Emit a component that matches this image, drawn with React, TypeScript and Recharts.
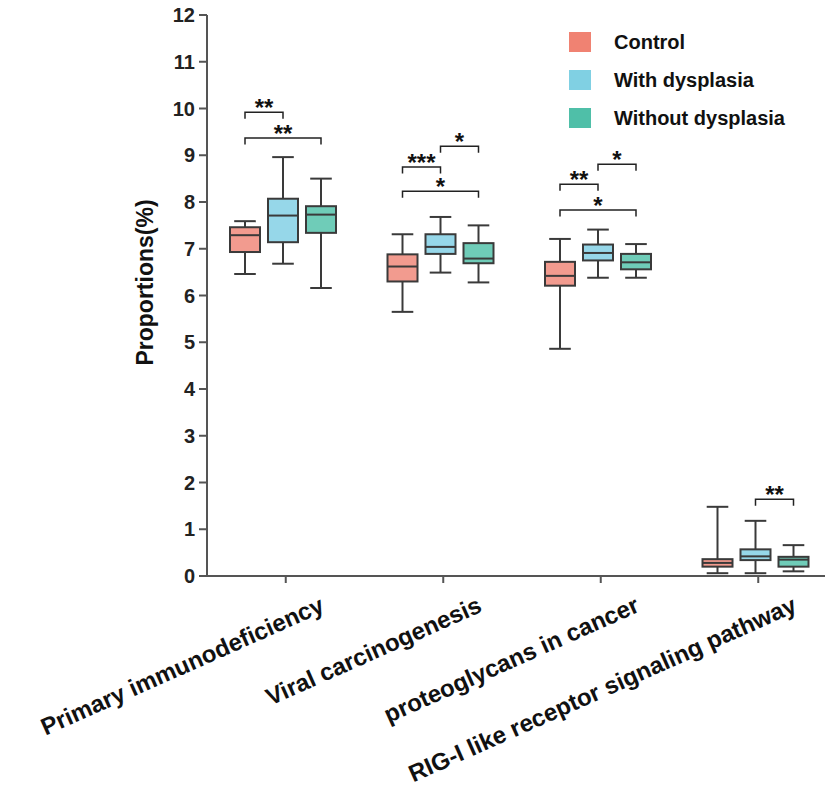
import React from 'react';
import { ComposedChart, Bar, XAxis, YAxis, Legend } from 'recharts';

// ---------- data ----------
const categories = [
  'Primary immunodeficiency',
  'Viral carcinogenesis',
  'proteoglycans  in cancer',
  'RIG-I like receptor signaling pathway',
];
const groupNames = ['Control', 'With dysplasia', 'Without dysplasia'];

// [min, q1, median, q3, max] per category
const controlStats = [
  [6.46, 6.93, 7.29, 7.46, 7.59],
  [5.65, 6.30, 6.62, 6.88, 7.31],
  [4.86, 6.21, 6.42, 6.72, 7.21],
  [0.06, 0.20, 0.28, 0.36, 1.48],
];
const withDysplasiaStats = [
  [6.68, 7.14, 7.71, 8.07, 8.96],
  [6.49, 6.89, 7.04, 7.31, 7.68],
  [6.38, 6.75, 6.91, 7.09, 7.41],
  [0.06, 0.34, 0.42, 0.57, 1.18],
];
const withoutDysplasiaStats = [
  [6.16, 7.34, 7.73, 7.91, 8.50],
  [6.28, 6.69, 6.79, 7.12, 7.50],
  [6.38, 6.56, 6.71, 6.89, 7.10],
  [0.10, 0.20, 0.35, 0.41, 0.66],
];

// significance brackets
const sigCategory = [0, 0, 1, 1, 1, 2, 2, 2, 3];
const sigFrom = [0, 0, 1, 0, 0, 1, 0, 0, 1];
const sigTo = [1, 2, 2, 1, 2, 2, 1, 2, 2];
const sigLevel = [9.92, 9.37, 9.19, 8.75, 8.23, 8.81, 8.38, 7.83, 1.64];
const sigLabel = ['**', '**', '*', '***', '*', '*', '**', '*', '**'];

const yTicks = [0, 1, 2, 3, 4, 5, 6, 7, 8, 9, 10, 11, 12];

// ---------- styles ----------
const FONT = '"Liberation Sans", Arial, Helvetica, sans-serif';
const boxFills = ['#F29B8F', '#96D7E9', '#6FCCB8'];
const legendFills = ['#F08272', '#80D0E3', '#4FBFA8'];
const INK = '#3a3a3a';
const BAR_SIZE = 30;
const BAR_GAP = 8;
const SHIFT = -3;

const statsBySeries = [controlStats, withDysplasiaStats, withoutDysplasiaStats];

const data = categories.map((name, i) => {
  const row: any = { name };
  statsBySeries.forEach((s, g) => {
    row['range' + g] = [s[i][0], s[i][4]];
    row['stats' + g] = s[i];
  });
  return row;
});

const makeShape = (g: number) => (props: any) => {
  const { x, y, width, height, payload, index } = props;
  const stats: number[] = payload['stats' + g];
  const top = Math.min(y, y + height);
  const bottom = Math.max(y, y + height);
  const ppu = (bottom - top) / (stats[4] - stats[0]);
  const py = (v: number) => bottom - (v - stats[0]) * ppu;
  const bx = x + SHIFT;
  const cx = bx + width / 2;
  const capW = width * 0.72;
  const q1 = py(stats[1]);
  const med = py(stats[2]);
  const q3 = py(stats[3]);
  const mn = py(stats[0]);
  const mx = py(stats[4]);

  const brackets: any[] = [];
  sigCategory.forEach((c, k) => {
    if (c !== index || sigFrom[k] !== g) return;
    const x1 = cx;
    const x2 = cx + (sigTo[k] - g) * (width + BAR_GAP);
    const ly = py(sigLevel[k]);
    brackets.push(
      <g key={'b' + k}>
        <path d={`M${x1},${ly + 6.5}V${ly}H${x2}V${ly + 6.5}`} fill="none" stroke="#222" strokeWidth={1.5} />
        <text x={(x1 + x2) / 2} y={ly + 4} textAnchor="middle" fontFamily={FONT} fontWeight="bold" fontSize={24} fill="#111">
          {sigLabel[k]}
        </text>
      </g>
    );
  });

  return (
    <g>
      <line x1={cx} x2={cx} y1={mx} y2={q3} stroke={INK} strokeWidth={2} />
      <line x1={cx} x2={cx} y1={q1} y2={mn} stroke={INK} strokeWidth={2} />
      <line x1={cx - capW / 2} x2={cx + capW / 2} y1={mx} y2={mx} stroke={INK} strokeWidth={2} />
      <line x1={cx - capW / 2} x2={cx + capW / 2} y1={mn} y2={mn} stroke={INK} strokeWidth={2} />
      <rect x={bx} y={q3} width={width} height={q1 - q3} fill={boxFills[g]} stroke={INK} strokeWidth={2} />
      <line x1={bx} x2={bx + width} y1={med} y2={med} stroke={INK} strokeWidth={2} />
      {brackets}
    </g>
  );
};

const XTick = (props: any) => {
  const { x, y, payload } = props;
  const ax = x + 40;
  const ay = y + 26;
  return (
    <text
      x={ax}
      y={ay}
      textAnchor="end"
      transform={`rotate(-24, ${ax}, ${ay})`}
      fontFamily={FONT}
      fontWeight="bold"
      fontSize={24}
      fill="#111"
    >
      {payload.value}
    </text>
  );
};

const LegendContent = (props: any) => {
  const payload = props.payload || [];
  return (
    <div style={{ fontFamily: FONT }}>
      {payload.map((p: any, i: number) => (
        <div key={i} style={{ display: 'flex', alignItems: 'center', height: 38 }}>
          <div style={{ width: 22, height: 20, background: legendFills[i], marginRight: 23 }} />
          <span style={{ fontWeight: 'bold', fontSize: 20, color: '#111' }}>{p.value}</span>
        </div>
      ))}
    </div>
  );
};

const YLabel = (props: any) => {
  const { viewBox } = props;
  const cx = viewBox.x + viewBox.width - 62;
  const cy = viewBox.y + viewBox.height / 2 - 13;
  return (
    <text
      x={cx}
      y={cy}
      textAnchor="middle"
      dominantBaseline="central"
      transform={`rotate(-90, ${cx}, ${cy})`}
      fontFamily={FONT}
      fontWeight="bold"
      fontSize={23}
      fill="#111"
    >
      Proportions(%)
    </text>
  );
};

export default function App() {
  return (
    <div style={{ margin: '-8px 0 0 -8px', width: 833, height: 793, overflow: 'hidden' }}>
      <ComposedChart
        width={843}
        height={793}
        data={data}
        margin={{ top: 15, right: 6, left: 0, bottom: 0 }}
        barGap={BAR_GAP}
        barSize={BAR_SIZE}
      >
        <XAxis
          dataKey="name"
          height={217}
          axisLine={{ stroke: '#555', strokeWidth: 2 }}
          tickLine={{ stroke: '#555', strokeWidth: 2 }}
          tickSize={7}
          interval={0}
          tick={<XTick />}
        />
        <YAxis
          width={207}
          domain={[0, 12]}
          ticks={yTicks}
          interval={0}
          axisLine={{ stroke: '#555', strokeWidth: 2 }}
          tickLine={{ stroke: '#555', strokeWidth: 2 }}
          tickSize={8}
          tickMargin={4}
          tick={{ fontFamily: FONT, fontWeight: 'bold', fontSize: 20, fill: '#222' }}
          label={<YLabel />}
        />
        <Legend
          layout="vertical"
          align="center"
          verticalAlign="middle"
          wrapperStyle={{ top: 23, left: 569, width: 260, bottom: 'auto', right: 'auto' }}
          content={<LegendContent />}
        />
        {groupNames.map((n, g) => (
          <Bar
            key={n}
            name={n}
            dataKey={'range' + g}
            fill={legendFills[g]}
            isAnimationActive={false}
            shape={makeShape(g)}
          />
        ))}
      </ComposedChart>
    </div>
  );
}
